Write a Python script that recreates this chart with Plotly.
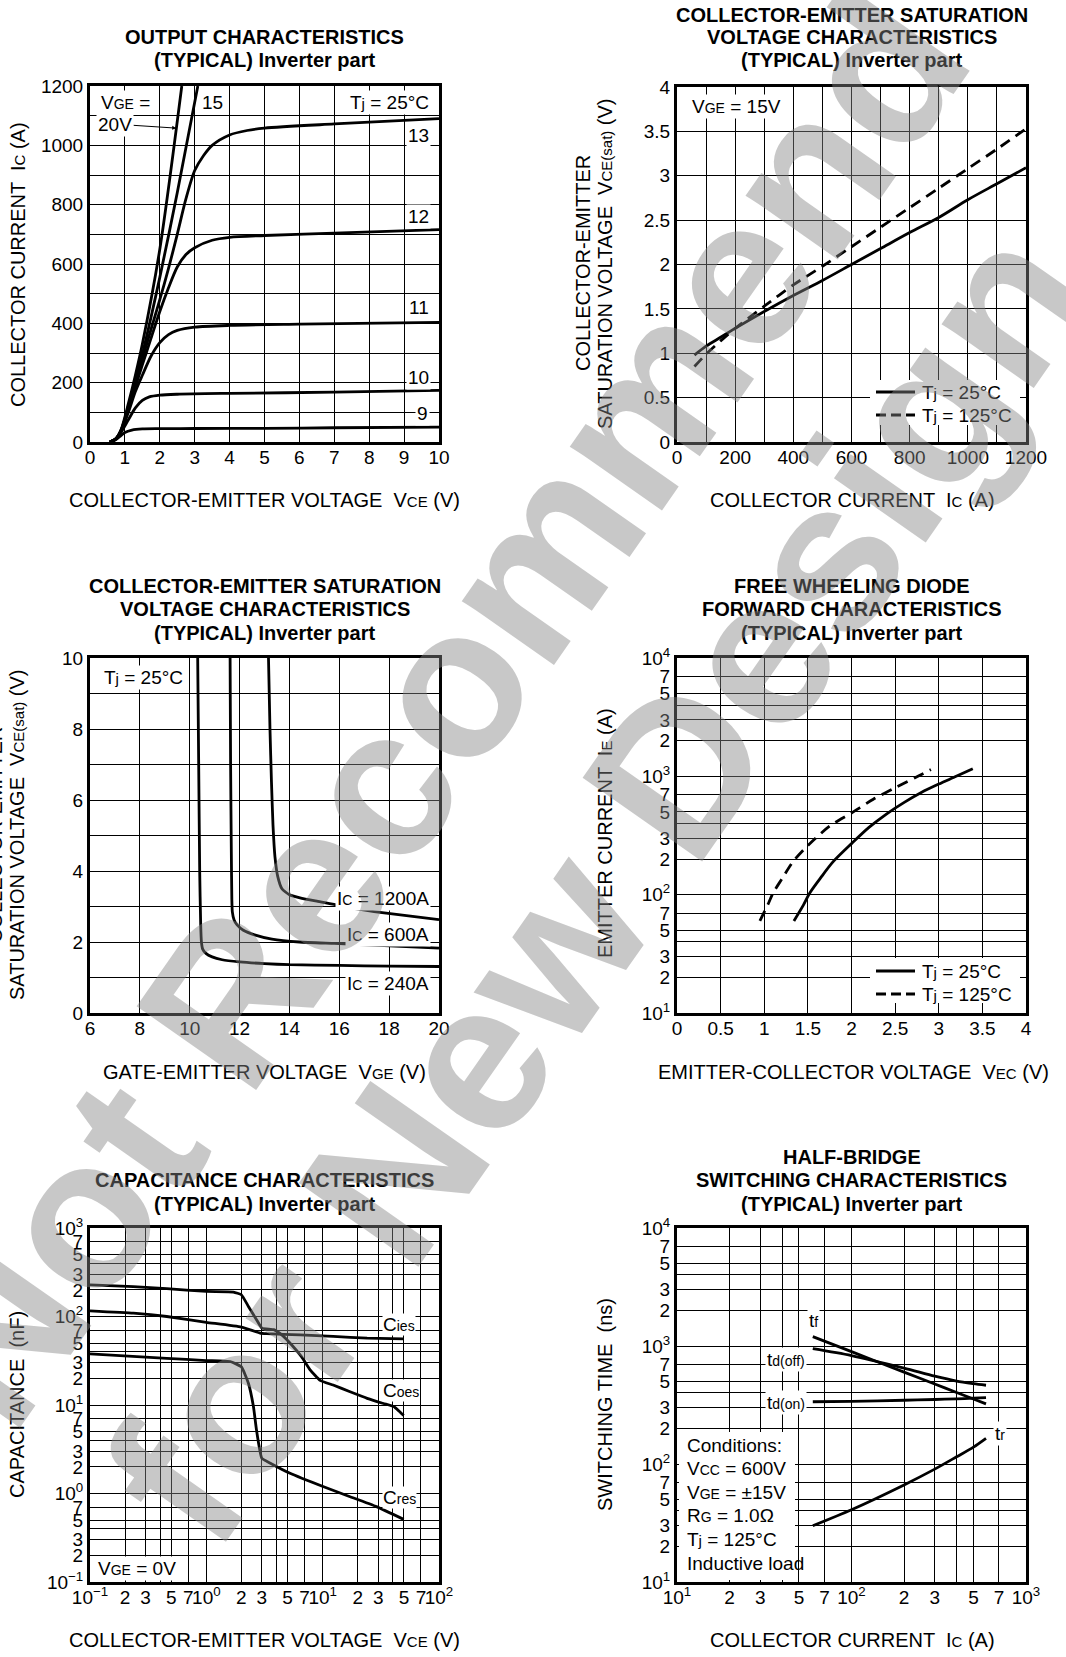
import plotly.graph_objects as go

W, H = 1066, 1657
FONT = "Liberation Sans, Arial, Helvetica, sans-serif"

# ---------------- Output characteristics (Tj = 25 C) ----------------
vce_09 = [0.57, 0.7, 0.85, 1.0, 1.2, 1.5, 2.0, 3.0, 5.0, 7.0, 10.0]
ic_09 = [0, 5, 18, 32, 40, 44, 45, 45.5, 46, 48, 50]
vce_10 = [0.57, 0.75, 0.9, 1.1, 1.3, 1.5, 1.7, 2.0, 2.5, 4.0, 7.0, 10.0]
ic_10 = [0, 12, 35, 75, 115, 140, 152, 158, 161, 164, 168, 174]
vce_11 = [0.57, 0.75, 0.9, 1.1, 1.3, 1.5, 1.75, 2.0, 2.25, 2.5, 3.0, 4.0, 6.0, 10.0]
ic_11 = [0, 12, 40, 100, 170, 225, 290, 335, 362, 376, 387, 393, 397, 403]
vce_12 = [0.57, 0.75, 0.9, 1.1, 1.3, 1.5, 1.75, 2.0, 2.25, 2.5, 2.75, 3.0, 3.5, 4.0, 5.0, 7.0, 10.0]
ic_12 = [0, 12, 40, 110, 185, 260, 350, 440, 520, 590, 632, 655, 680, 690, 696, 704, 716]
vce_13 = [0.57, 0.75, 0.9, 1.1, 1.3, 1.5, 1.75, 2.0, 2.25, 2.5, 2.75, 3.0, 3.25, 3.5, 4.0, 4.5, 5.0, 7.0, 10.0]
ic_13 = [0, 12, 42, 115, 195, 280, 380, 480, 585, 700, 820, 915, 965, 1000, 1035, 1050, 1058, 1072, 1090]
vce_15 = [0.57, 0.75, 0.9, 1.1, 1.3, 1.5, 2.0, 2.5, 3.09]
ic_15 = [0, 12, 42, 120, 205, 295, 555, 840, 1200]
vce_20 = [0.57, 0.75, 0.9, 1.1, 1.3, 1.5, 2.0, 2.63]
ic_20 = [0, 12, 45, 130, 225, 330, 650, 1200]

# ---------------- VCE(sat) vs IC (VGE = 15 V) ----------------
sat_ic = [60, 100, 150, 200, 300, 400, 500, 600, 700, 800, 900, 1000, 1100, 1200]
sat_v_25 = [0.98, 1.08, 1.18, 1.28, 1.47, 1.65, 1.82, 2.0, 2.18, 2.36, 2.53, 2.73, 2.91, 3.09]
sat_v_125 = [0.85, 0.99, 1.14, 1.28, 1.53, 1.77, 1.98, 2.2, 2.42, 2.64, 2.86, 3.08, 3.3, 3.53]

# ---------------- VCE(sat) vs VGE (Tj = 25 C) ----------------
vge_240 = [10.32, 10.36, 10.4, 10.44, 10.47, 10.52, 10.65, 10.9, 11.3, 12.0, 13.0, 14.0, 16.0, 18.0, 20.0]
vsat_240 = [10, 7, 4, 2.5, 2.0, 1.8, 1.68, 1.58, 1.5, 1.44, 1.39, 1.36, 1.34, 1.32, 1.31]
vge_600 = [11.62, 11.64, 11.67, 11.69, 11.71, 11.78, 11.9, 12.15, 12.6, 13.3, 14.4, 15.8, 17.8, 20.0]
vsat_600 = [10, 7, 4.5, 3.2, 2.85, 2.62, 2.48, 2.33, 2.2, 2.08, 2.0, 1.96, 1.9, 1.83]
vge_1200 = [13.16, 13.22, 13.28, 13.34, 13.42, 13.53, 13.7, 14.0, 14.5, 15.1, 16.4, 17.8, 20.0]
vsat_1200 = [10, 8, 6.5, 5.3, 4.4, 3.85, 3.5, 3.33, 3.23, 3.15, 2.97, 2.82, 2.63]

# ---------------- Free wheeling diode forward characteristics ----------------
vec_25 = [1.34, 1.45, 1.52, 1.65, 1.79, 2.0, 2.2, 2.4, 2.6, 2.8, 3.0, 3.2, 3.39]
ie_25 = [60, 82, 103, 140, 190, 270, 370, 480, 600, 730, 860, 1000, 1160]
vec_125 = [0.95, 1.05, 1.1, 1.2, 1.33, 1.5, 1.75, 2.0, 2.25, 2.5, 2.75, 2.91]
ie_125 = [60, 85, 103, 135, 190, 260, 380, 490, 640, 800, 990, 1140]

# ---------------- Capacitance characteristics (VGE = 0 V) ----------------
cap_v_cies = [0.1, 0.236, 0.457, 1.0, 2.0, 2.9, 3.3, 6.4, 12.3, 24.1, 49.7]
cap_cies = [116, 109, 100, 86, 76, 65, 64, 62, 59.5, 57, 56]
cap_v_coes = [0.1, 0.236, 0.457, 1.0, 1.71, 2.0, 2.3, 2.7, 3.0, 3.8, 4.45, 5.4, 6.6, 7.8, 9.5, 12.3, 17.2, 24.1, 33.3, 40.8, 45.0, 49.7]
cap_coes = [228, 218, 206, 192, 189, 176, 130, 92, 74, 71, 62, 48, 35, 25, 19, 16.8, 14.1, 11.9, 10.4, 9.6, 8.6, 7.6]
cap_v_cres = [0.1, 0.457, 1.0, 1.6, 2.0, 2.3, 2.54, 2.7, 3.0, 3.55, 5.3, 10.2, 17.2, 29.0, 49.7]
cap_cres = [37.8, 33.7, 31.8, 31, 27, 17.6, 9.6, 5.2, 2.5, 2.2, 1.68, 1.19, 0.92, 0.71, 0.51]

# ---------------- Half-bridge switching characteristics ----------------
sw_ic = [60, 100, 200, 300, 400, 500, 590]
sw_tf = [1200, 895, 601, 476, 404, 355, 323]
sw_tdoff = [950, 830, 650, 555, 505, 480, 465]
sw_tdon = [337, 340, 347, 352, 357, 361, 365]
sw_tr = [30, 41, 66.5, 90.5, 115, 139, 165]

# ---------------- tick positions ----------------
out_x_ticks = list(range(0, 11))
out_y_ticks = list(range(0, 1201, 100))
sat_x_ticks = list(range(0, 1201, 100))
sat_y_ticks = [0, 0.5, 1, 1.5, 2, 2.5, 3, 3.5, 4]
vge_x_ticks = list(range(6, 21, 2))
vge_y_ticks = list(range(0, 11))
fwd_x_ticks = [0, 0.5, 1, 1.5, 2, 2.5, 3, 3.5, 4]
LOG_MANTISSAS = [1, 2, 3, 4, 5, 7]


def px(x, y):
    return x / W, 1 - y / H


def sub(s, size=14):
    return f"<span style='font-size:{size}px'>{s}</span>"


def log_ticks(lo, hi):
    vals, texts = [], []
    for e in range(lo, hi + 1):
        for m in LOG_MANTISSAS:
            if e == hi and m > 1:
                break
            vals.append(m * 10.0 ** e)
            if m == 1:
                ex = str(e).replace("-", "\u2212")
                texts.append(f"10<sup>{ex}</sup>")
            elif m == 4:
                texts.append(" ")
            else:
                texts.append(str(m))
    return vals, texts


def lin_text(vals, every=None):
    out = []
    for v in vals:
        if every is None or abs((v / every) - round(v / every)) < 1e-9:
            out.append(f"{v:g}")
        else:
            out.append(" ")
    return out


fig = go.Figure()

# plot areas in pixels: (left, right, top, bottom)
boxes = {
    1: (90, 439, 86, 442),
    2: (677, 1026, 87, 442),
    3: (90, 439, 658, 1013),
    4: (677, 1026, 658, 1013),
    5: (90, 439, 1228, 1582),
    6: (677, 1026, 1228, 1582),
}

axis_common = dict(
    showline=True, linecolor="black", linewidth=3, mirror=True,
    showgrid=True, gridcolor="black", gridwidth=1, zeroline=False,
    ticks="", tickangle=0, automargin=False, fixedrange=True,
    tickfont=dict(family=FONT, size=19, color="black"),
    tickmode="array",
)

lx, ly = log_ticks(1, 4)
cx, cx_t = log_ticks(-1, 2)
cy, cy_t = log_ticks(-1, 3)
sx, sx_t = log_ticks(1, 3)

axis_specs = {
    1: (dict(range=[0, 10], tickvals=out_x_ticks, ticktext=lin_text(out_x_ticks)),
        dict(range=[0, 1200], tickvals=out_y_ticks, ticktext=lin_text(out_y_ticks, 200))),
    2: (dict(range=[0, 1200], tickvals=sat_x_ticks, ticktext=lin_text(sat_x_ticks, 200)),
        dict(range=[0, 4], tickvals=sat_y_ticks, ticktext=lin_text(sat_y_ticks))),
    3: (dict(range=[6, 20], tickvals=vge_x_ticks, ticktext=lin_text(vge_x_ticks)),
        dict(range=[0, 10], tickvals=vge_y_ticks, ticktext=lin_text(vge_y_ticks, 2))),
    4: (dict(range=[0, 4], tickvals=fwd_x_ticks, ticktext=lin_text(fwd_x_ticks)),
        dict(type="log", range=[1, 4], tickvals=lx, ticktext=ly)),
    5: (dict(type="log", range=[-1, 2], tickvals=cx, ticktext=cx_t),
        dict(type="log", range=[-1, 3], tickvals=cy, ticktext=cy_t)),
    6: (dict(type="log", range=[1, 3], tickvals=sx, ticktext=sx_t),
        dict(type="log", range=[1, 4], tickvals=lx, ticktext=ly)),
}

layout_axes = {}
for i, (l, r, t, b) in boxes.items():
    xs, ys = axis_specs[i]
    sfx = "" if i == 1 else str(i)
    layout_axes[f"xaxis{sfx}"] = dict(axis_common, domain=[l / W, r / W], anchor=f"y{sfx}",
                                      ticklabelstandoff=-4, **xs)
    layout_axes[f"yaxis{sfx}"] = dict(axis_common, domain=[1 - b / H, 1 - t / H], anchor=f"x{sfx}", **ys)

fig.update_layout(
    width=W, height=H, margin=dict(l=0, r=0, t=0, b=0),
    paper_bgcolor="white", plot_bgcolor="white", showlegend=False,
    font=dict(family=FONT, color="black"),
    **layout_axes,
)

LW = 2.8


def curve(x, y, i, dash="solid", smooth=0.8):
    sfx = "" if i == 1 else str(i)
    fig.add_trace(go.Scatter(
        x=x, y=y, mode="lines", xaxis=f"x{sfx}", yaxis=f"y{sfx}", hoverinfo="skip",
        line=dict(color="black", width=LW, dash=dash, shape="spline", smoothing=smooth),
    ))


DASH = "11px,7px"

for vx, iy in [(vce_09, ic_09), (vce_10, ic_10), (vce_11, ic_11), (vce_12, ic_12),
               (vce_13, ic_13), (vce_15, ic_15), (vce_20, ic_20)]:
    curve(vx, iy, 1)

curve(sat_ic, sat_v_25, 2)
curve(sat_ic, sat_v_125, 2, DASH)

curve(vge_240, vsat_240, 3, smooth=0.5)
curve(vge_600, vsat_600, 3, smooth=0.5)
curve(vge_1200, vsat_1200, 3, smooth=0.5)

curve(vec_25, ie_25, 4)
curve(vec_125, ie_125, 4, DASH)

curve(cap_v_cies, cap_cies, 5, smooth=0.4)
curve(cap_v_coes, cap_coes, 5, smooth=0.4)
curve(cap_v_cres, cap_cres, 5, smooth=0.4)

curve(sw_ic, sw_tf, 6)
curve(sw_ic, sw_tdoff, 6)
curve(sw_ic, sw_tdon, 6)
curve(sw_ic, sw_tr, 6)


def text(t, x, y, size=19, xanchor="center", yanchor="middle", bg=None, angle=0, bold=False, pad=1):
    X, Y = px(x, y)
    if bold:
        t = f"<b>{t}</b>"
    fig.add_annotation(
        text=t, x=X, y=Y, xref="paper", yref="paper", showarrow=False,
        xanchor=xanchor, yanchor=yanchor, textangle=angle,
        font=dict(family=FONT, size=size, color="black"),
        bgcolor=bg if bg else "rgba(0,0,0,0)", borderpad=pad,
    )


# chart titles
TS = 20
LC, RC = 264.5, 851.5
text("OUTPUT CHARACTERISTICS", LC, 37, TS, bold=True)
text("(TYPICAL) Inverter part", LC, 60, TS, bold=True)
text("COLLECTOR-EMITTER SATURATION", RC, 14.5, TS, bold=True)
text("VOLTAGE CHARACTERISTICS", RC, 37, TS, bold=True)
text("(TYPICAL) Inverter part", RC, 60, TS, bold=True)
text("COLLECTOR-EMITTER SATURATION", LC, 585.5, TS, bold=True)
text("VOLTAGE CHARACTERISTICS", LC, 609, TS, bold=True)
text("(TYPICAL) Inverter part", LC, 632.5, TS, bold=True)
text("FREE WHEELING DIODE", RC, 585.5, TS, bold=True)
text("FORWARD CHARACTERISTICS", RC, 609, TS, bold=True)
text("(TYPICAL) Inverter part", RC, 632.5, TS, bold=True)
text("CAPACITANCE CHARACTERISTICS", LC, 1180, TS, bold=True)
text("(TYPICAL) Inverter part", LC, 1203.5, TS, bold=True)
text("HALF-BRIDGE", RC, 1156.5, TS, bold=True)
text("SWITCHING CHARACTERISTICS", RC, 1180, TS, bold=True)
text("(TYPICAL) Inverter part", RC, 1203.5, TS, bold=True)

# axis titles
AS = 20
SS = 15
text(f"COLLECTOR-EMITTER VOLTAGE  V{sub('CE', SS)} (V)", 264, 500, AS)
text(f"COLLECTOR CURRENT  I{sub('C', SS)} (A)", 852, 500, AS)
text(f"GATE-EMITTER VOLTAGE  V{sub('GE', SS)} (V)", 264, 1072, AS)
text(f"EMITTER-COLLECTOR VOLTAGE  V{sub('EC', SS)} (V)", 853, 1072, AS)
text(f"COLLECTOR-EMITTER VOLTAGE  V{sub('CE', SS)} (V)", 264, 1640, AS)
text(f"COLLECTOR CURRENT  I{sub('C', SS)} (A)", 852, 1640, AS)

text(f"COLLECTOR CURRENT  I{sub('C', SS)} (A)", 18, 265, AS, angle=-90)
text("COLLECTOR-EMITTER", 583, 263, AS, angle=-90)
text(f"SATURATION VOLTAGE  V{sub('CE(sat)', SS)} (V)", 605, 264, AS, angle=-90)
text("COLLECTOR-EMITTER", -5, 835, AS, angle=-90)
text(f"SATURATION VOLTAGE  V{sub('CE(sat)', SS)} (V)", 17, 835, AS, angle=-90)
text(f"EMITTER CURRENT  I{sub('E', SS)} (A)", 605, 833, AS, angle=-90)
text("CAPACITANCE  (nF)", 17, 1405, AS, angle=-90)
text("SWITCHING TIME  (ns)", 605, 1405, AS, angle=-90)

# in-plot labels
LS = 19
WH = "white"
text(f"V{sub('GE')} =", 99, 103, LS, xanchor="left", bg=WH)
text("15", 212, 103, LS, bg=WH)
text(f"T{sub('j', 15)} = 25°C", 431, 103, LS, xanchor="right", bg=WH)
text("13", 431, 135, LS, xanchor="right", bg=WH)
text("12", 431, 217, LS, xanchor="right", bg=WH)
text("11", 431, 308, LS, xanchor="right", bg=WH)
text("10", 431, 377, LS, xanchor="right", bg=WH)
text("9", 430, 413, LS, xanchor="right", bg=WH)
fig.add_annotation(
    text="20V", x=2.47, y=1058, xref="x", yref="y", ax=-61, ay=-4,
    showarrow=True, arrowhead=2, arrowsize=0.8, arrowwidth=1, arrowcolor="black",
    font=dict(family=FONT, size=LS, color="black"), bgcolor=WH, borderpad=1,
)

text(f"V{sub('GE')} = 15V", 690, 106, LS, xanchor="left", bg=WH)
text(f"T{sub('j', 15)} = 25°C", 102, 677, LS, xanchor="left", bg=WH)
text(f"I{sub('C')} = 1200A", 431, 898, LS, xanchor="right", bg=WH)
text(f"I{sub('C')} = 600A", 431, 934, LS, xanchor="right", bg=WH)
text(f"I{sub('C')} = 240A", 431, 983, LS, xanchor="right", bg=WH)

text(f"C{sub('ies')}", 382, 1324, LS, xanchor="left", bg=WH, pad=0)
text(f"C{sub('oes')}", 382, 1390, LS, xanchor="left", bg=WH, pad=0)
text(f"C{sub('res')}", 382, 1497, LS, xanchor="left", bg=WH, pad=0)
text(f"V{sub('GE')} = 0V", 96, 1568, LS, xanchor="left", bg=WH)

text(f"t{sub('f')}", 813, 1320, LS, bg=WH)
text(f"t{sub('d(off)')}", 786, 1359, LS, bg=WH)
text(f"t{sub('d(on)')}", 786, 1402, LS, bg=WH)
text(f"t{sub('r')}", 1000, 1433, LS, bg=WH)


def paper_rect(x0, y0, x1, y1):
    X0, Y1 = px(x0, y0)
    X1, Y0 = px(x1, y1)
    fig.add_shape(type="rect", xref="paper", yref="paper", x0=X0, x1=X1, y0=Y0, y1=Y1,
                  fillcolor="white", line_width=0, layer="above")


def paper_line(x0, x1, y, dash="solid"):
    X0, Y = px(x0, y)
    X1, _ = px(x1, y)
    fig.add_shape(type="line", xref="paper", yref="paper", x0=X0, x1=X1, y0=Y, y1=Y,
                  line=dict(color="black", width=LW, dash=dash), layer="above")


# legends for the two temperature plots
for top, l1, l2 in [(380, 392, 415), (958, 971, 994)]:
    paper_rect(870, top, 1020, top + 45)
    paper_line(876, 915, l1)
    paper_line(876, 915, l2, "10px,5px")
    text(f"T{sub('j', 15)} = 25°C", 920, l1, LS, xanchor="left")
    text(f"T{sub('j', 15)} = 125°C", 920, l2, LS, xanchor="left")

# switching test conditions
paper_rect(679, 1432, 795, 1580)
cond_lines = ["Conditions:", f"V{sub('CC')} = 600V", f"V{sub('GE')} = ±15V",
              f"R{sub('G')} = 1.0Ω", f"T{sub('j', 15)} = 125°C", "Inductive load"]
for k, s in enumerate(cond_lines):
    text(s, 685, 1445 + 23.6 * k, LS, xanchor="left")

# diagonal notice across the sheet
WM = dict(family=FONT, size=212, color="rgba(133,133,133,0.45)", weight="bold")
for s, (x, y) in [("Not Recommend", (434, 707)), ("for New Design", (596, 884))]:
    X, Y = px(x, y)
    fig.add_annotation(text=s, x=X, y=Y, xref="paper", yref="paper", showarrow=False,
                       xanchor="center", yanchor="middle", textangle=-55, font=WM)

fig.write_html("out.html")
